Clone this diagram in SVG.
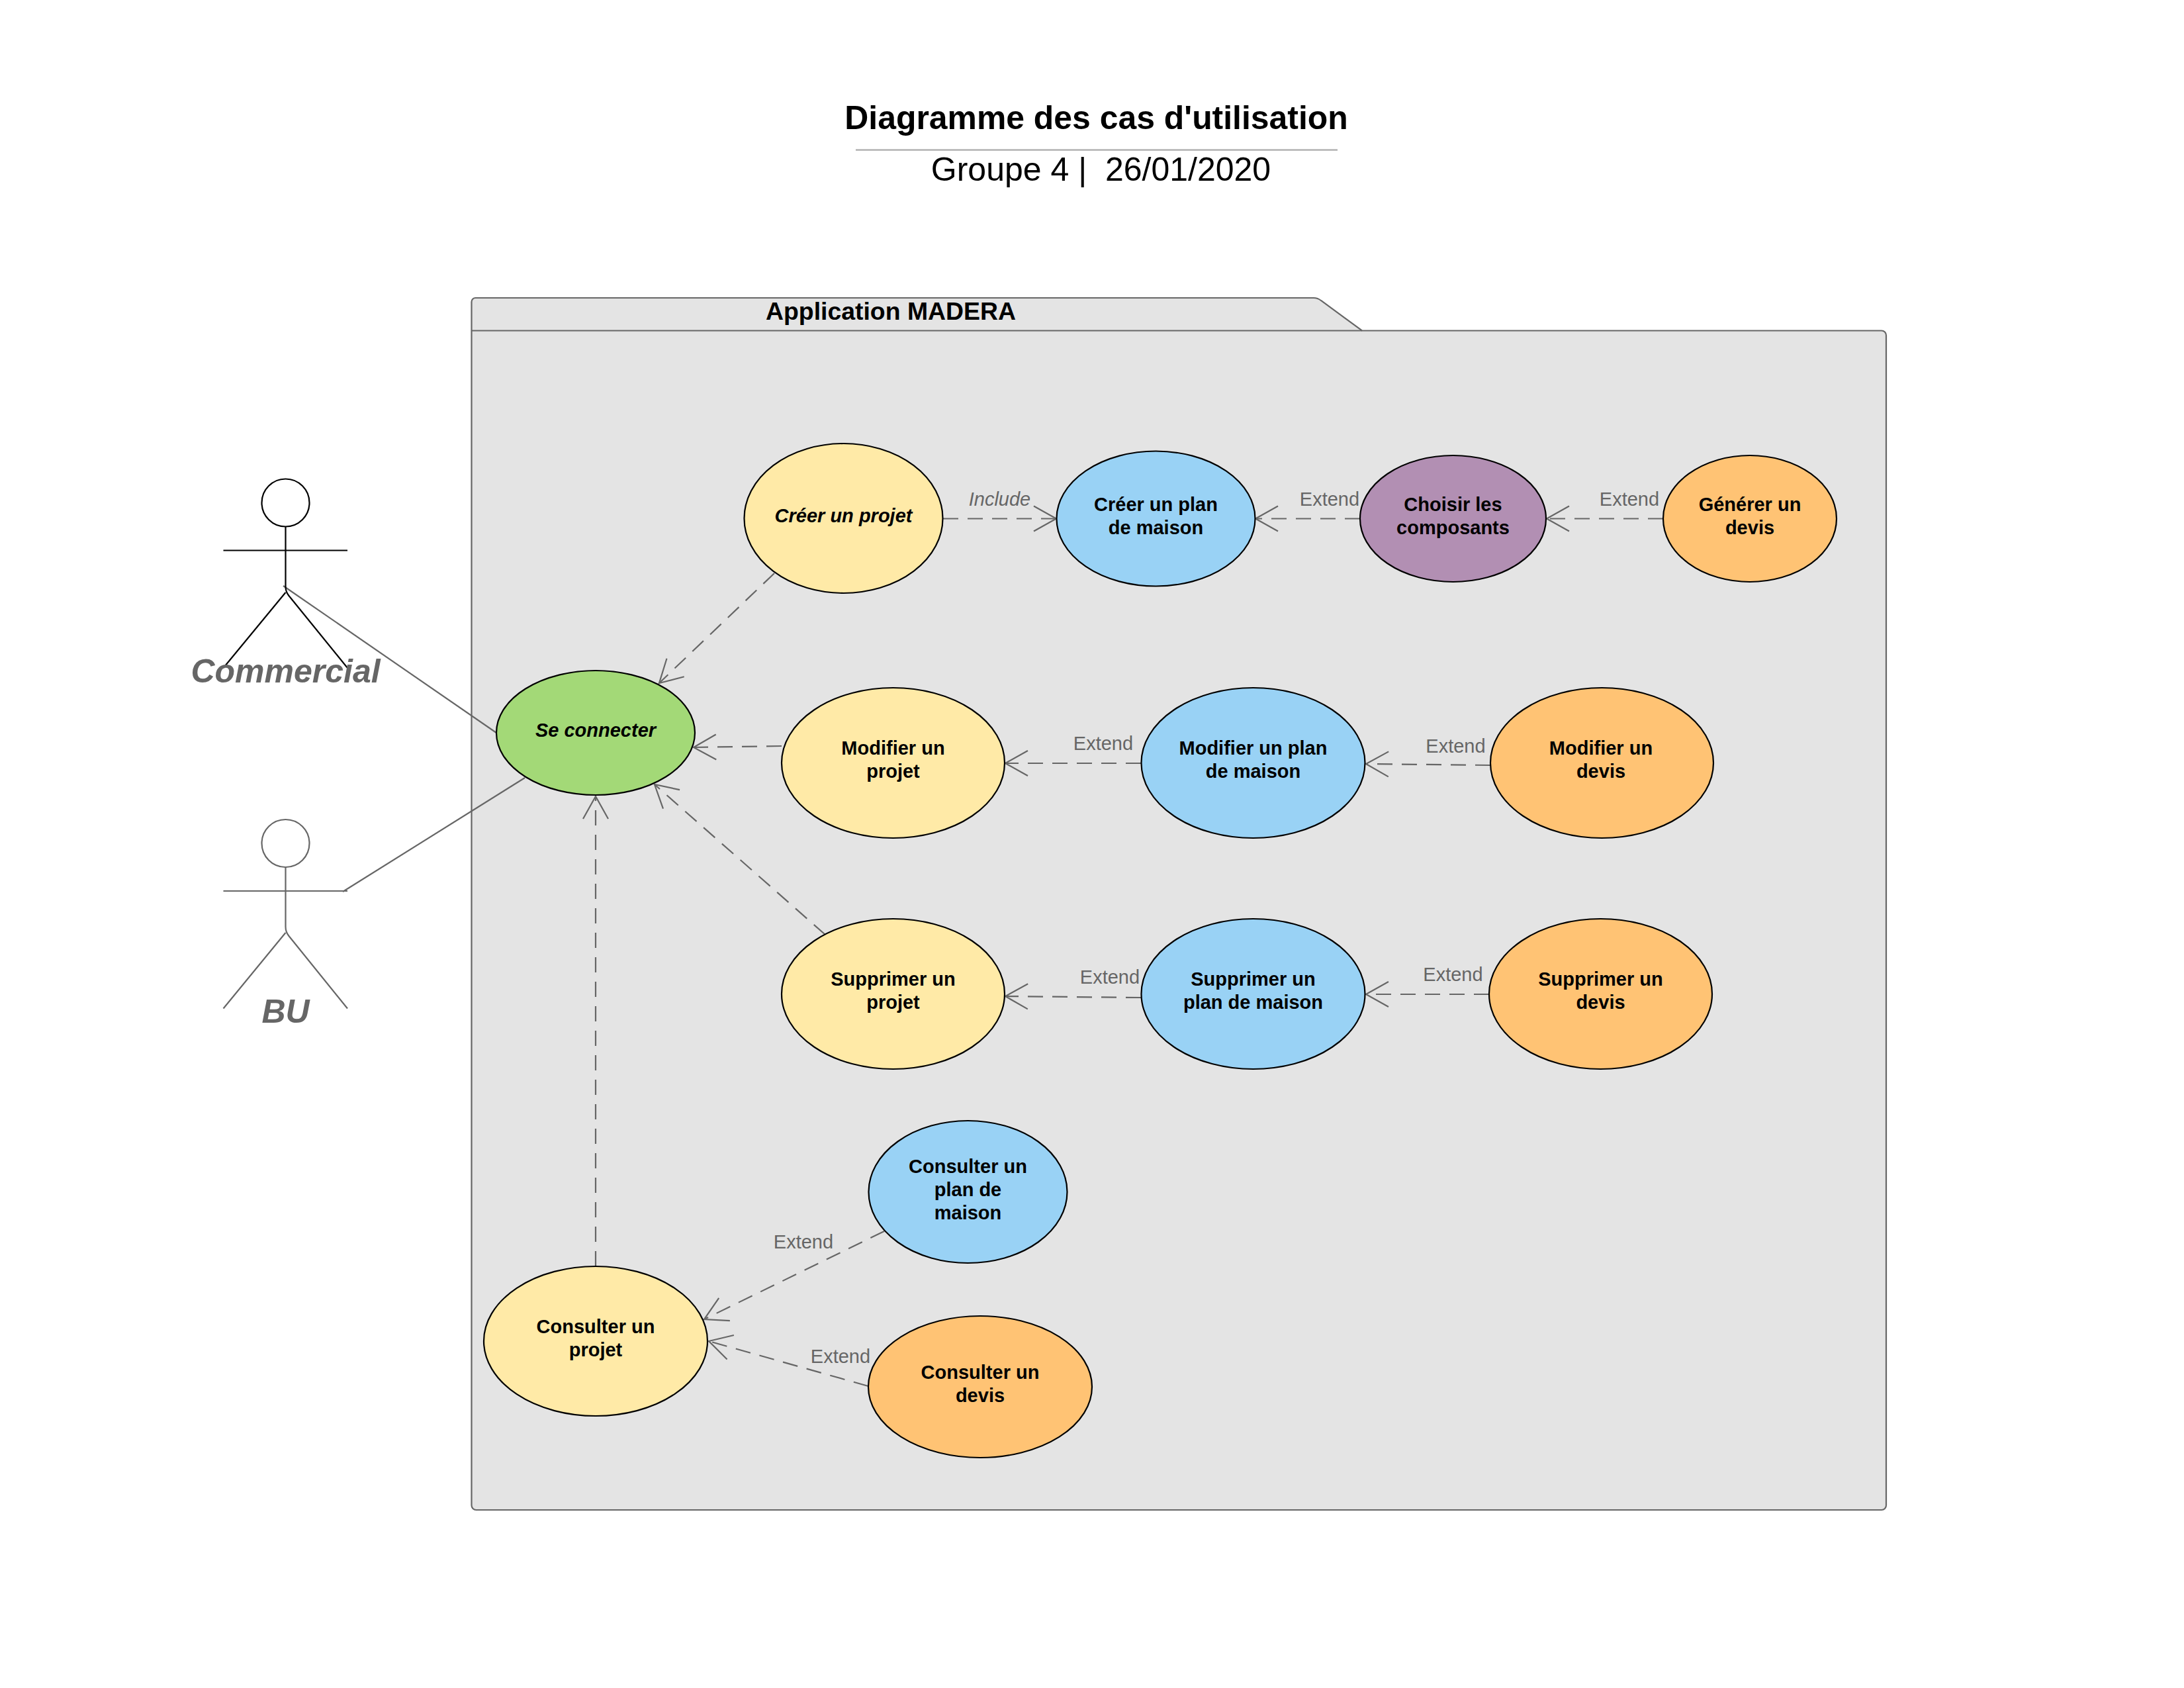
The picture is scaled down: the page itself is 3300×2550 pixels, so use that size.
<svg xmlns="http://www.w3.org/2000/svg" width="3300" height="2550" viewBox="0 0 3300 2550">
<style>
text{font-family:"Liberation Sans",Arial,sans-serif;text-anchor:middle}
.n{font-size:29px;font-weight:700;fill:#000}
.i{font-style:italic}
.u{stroke:#000;stroke-width:2.2px}
.y{fill:#ffeaa7}.g{fill:#a3d977}.b{fill:#99d2f5}.p{fill:#b28fb3}.o{fill:#ffc374}
.d{fill:none;stroke:#666;stroke-width:2.2px;stroke-dasharray:23 14;marker-end:url(#v)}
.s{fill:none;stroke:#666;stroke-width:2.2px}
.l{font-size:29px;fill:#666}
.a{font-size:50px;font-weight:700;font-style:italic;fill:#666}
</style>
<defs>
<marker id="v" markerUnits="userSpaceOnUse" markerWidth="44" markerHeight="48" refX="36" refY="22" orient="auto" overflow="visible">
<path d="M2 3 L36 22 L2 41" fill="none" stroke="#666" stroke-width="2.2" stroke-dasharray="none"/>
</marker>
</defs>
<rect width="3300" height="2550" fill="#fff"/>
<g id="title">
<text x="1656.500" y="195" font-size="49.900" font-weight="700" fill="#000">Diagramme des cas d'utilisation</text>
<line x1="1293" y1="226.500" x2="2021" y2="226.500" stroke="#b2b2b2" stroke-width="2.500"/>
<text x="1663.500" y="273" font-size="50" fill="#000" xml:space="preserve">Groupe 4 |  26/01/2020</text>
</g>
<g id="diagram" transform="translate(0,1)">
<g id="package">
<path d="M712.500 2273V455a6 6 0 0 1 6-6H1985q6 0 11 4L2058 498.500H2843a7 7 0 0 1 7 7V2273a7 7 0 0 1-7 7H719.500a7 7 0 0 1-7-7Z" fill="#e4e4e4" stroke="#666" stroke-width="2.2"/>
<line x1="712.500" y1="498.500" x2="2058" y2="498.500" stroke="#666" stroke-width="2.2"/>
<text x="1346" y="482" font-size="37.400" font-weight="700" fill="#000">Application MADERA</text>
</g>
<g id="connectors">
<line class="s" x1="428" y1="884" x2="750" y2="1106"/>
<line class="s" x1="518" y1="1346" x2="793" y2="1174"/>
<line class="d" x1="1425" y1="782.500" x2="1596" y2="782.500"/>
<line class="d" x1="2055" y1="782.500" x2="1897" y2="782.500"/>
<line class="d" x1="2513" y1="782.500" x2="2337" y2="782.500"/>
<line class="d" x1="1170" y1="865" x2="996" y2="1031"/>
<line class="d" x1="1181" y1="1126" x2="1048" y2="1128"/>
<line class="d" x1="1247" y1="1411" x2="989" y2="1184"/>
<line class="d" x1="900" y1="1912" x2="900" y2="1202"/>
<line class="d" x1="1724" y1="1152" x2="1519" y2="1152"/>
<line class="d" x1="2252" y1="1155" x2="2064" y2="1153"/>
<line class="d" x1="1724" y1="1506" x2="1519" y2="1504"/>
<line class="d" x1="2250" y1="1501" x2="2064" y2="1501"/>
<line class="d" x1="1336" y1="1859" x2="1064" y2="1992"/>
<line class="d" x1="1312" y1="2093" x2="1071" y2="2025"/>
<text class="l i" x="1510.500" y="763">Include</text>
<text class="l" x="2009" y="763">Extend</text>
<text class="l" x="2462" y="763">Extend</text>
<text class="l" x="1667" y="1132">Extend</text>
<text class="l" x="2199.500" y="1136">Extend</text>
<text class="l" x="1677" y="1485">Extend</text>
<text class="l" x="2195.500" y="1481">Extend</text>
<text class="l" x="1214" y="1885">Extend</text>
<text class="l" x="1270" y="2058">Extend</text>
</g>
<g id="actor-commercial" fill="none" stroke="#000" stroke-width="2.2">
<circle cx="431.500" cy="758.500" r="36"/>
<path d="M431.500 794.500V885q0 8 5 14L525 1008M431.500 894L337.500 1008M337.500 830.500H525"/>
<text class="a" x="431.500" y="1030" stroke="none">Commercial</text>
</g>
<g id="actor-bu" fill="none" stroke="#666" stroke-width="2.2">
<circle cx="431.500" cy="1273" r="36"/>
<path d="M431.500 1309V1399q0 8 5 14L525 1522.500M431.500 1408L337.500 1522.500M337.500 1345H525"/>
<text class="a" x="431.500" y="1544" stroke="none">BU</text>
</g>
<g id="se-connecter"><ellipse class="g u" cx="900" cy="1106" rx="150" ry="94"/><text class="n i" x="900" y="1112">Se connecter</text></g>
<g id="creer-projet"><ellipse class="y u" cx="1274.500" cy="782" rx="150" ry="113"/><text class="n i" x="1274.500" y="788">Créer un projet</text></g>
<g id="creer-plan"><ellipse class="b u" cx="1746.500" cy="782.500" rx="150" ry="102"/><text class="n" x="1746.500" y="770.500">Créer un plan</text><text class="n" x="1746.500" y="805.500">de maison</text></g>
<g id="choisir-composants"><ellipse class="p u" cx="2195.500" cy="782.500" rx="140.500" ry="95.500"/><text class="n" x="2195.500" y="770.500">Choisir les</text><text class="n" x="2195.500" y="805.500">composants</text></g>
<g id="generer-devis"><ellipse class="o u" cx="2644" cy="782.500" rx="131" ry="95.500"/><text class="n" x="2644" y="770.500">Générer un</text><text class="n" x="2644" y="805.500">devis</text></g>
<g id="modifier-projet"><ellipse class="y u" cx="1349.500" cy="1151.500" rx="168.500" ry="113.500"/><text class="n" x="1349.500" y="1139">Modifier un</text><text class="n" x="1349.500" y="1174">projet</text></g>
<g id="modifier-plan"><ellipse class="b u" cx="1893.500" cy="1151.500" rx="169" ry="113.500"/><text class="n" x="1893.500" y="1139">Modifier un plan</text><text class="n" x="1893.500" y="1174">de maison</text></g>
<g id="modifier-devis"><ellipse class="o u" cx="2420.500" cy="1151.500" rx="168.500" ry="113.500"/><text class="n" x="2419" y="1139">Modifier un</text><text class="n" x="2419" y="1174">devis</text></g>
<g id="supprimer-projet"><ellipse class="y u" cx="1349.500" cy="1500.500" rx="168.500" ry="113.500"/><text class="n" x="1349.500" y="1488">Supprimer un</text><text class="n" x="1349.500" y="1523">projet</text></g>
<g id="supprimer-plan"><ellipse class="b u" cx="1893.500" cy="1500.500" rx="169" ry="113.500"/><text class="n" x="1893.500" y="1488">Supprimer un</text><text class="n" x="1893.500" y="1523">plan de maison</text></g>
<g id="supprimer-devis"><ellipse class="o u" cx="2418.500" cy="1500.500" rx="168.500" ry="113.500"/><text class="n" x="2418.500" y="1488">Supprimer un</text><text class="n" x="2418.500" y="1523">devis</text></g>
<g id="consulter-plan"><ellipse class="b u" cx="1462.500" cy="1799.500" rx="150" ry="107.500"/><text class="n" x="1462.500" y="1770.500">Consulter un</text><text class="n" x="1462.500" y="1805.500">plan de</text><text class="n" x="1462.500" y="1840.500">maison</text></g>
<g id="consulter-projet"><ellipse class="y u" cx="900" cy="2025" rx="169" ry="113"/><text class="n" x="900" y="2012.500">Consulter un</text><text class="n" x="900" y="2047.500">projet</text></g>
<g id="consulter-devis"><ellipse class="o u" cx="1481" cy="2094" rx="169" ry="107"/><text class="n" x="1481" y="2081.500">Consulter un</text><text class="n" x="1481" y="2116.500">devis</text></g>
</g>
</svg>
